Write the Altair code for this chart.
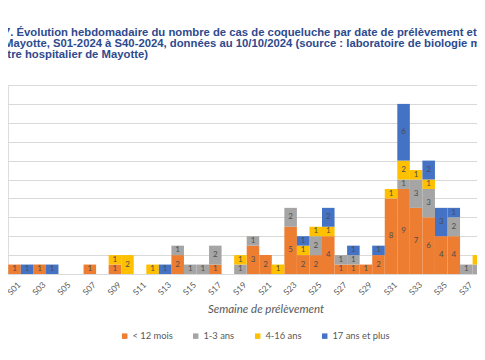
import altair as alt
import pandas as pd

# ---- data ----
weeks = list(range(1, 39))  # S01 .. S38 (visible part)
classes = ["< 12 mois", "1-3 ans", "4-16 ans", "17 ans et plus"]
colors = ["#ED7D31", "#A5A5A5", "#FFC000", "#4472C4"]

lt12 = [1,0,1,0,0,0,1,0,1,0,0,0,0,2,0,0,1,0,0,3,2,0,5,2,2,4,1,1,1,2,8,9,7,6,4,4,0,0]
a1_3 = [0,0,0,0,0,0,0,0,0,0,0,0,0,1,1,1,2,0,1,1,0,0,2,0,2,0,1,1,0,0,0,1,3,3,0,2,1,1]
a4_16 = [0,0,0,0,0,0,0,0,1,2,0,1,0,0,0,0,0,0,1,0,0,1,0,1,1,1,0,0,0,0,1,2,1,1,0,0,0,1]
a17p = [0,1,0,1,0,0,0,0,0,0,0,0,1,0,0,0,0,0,0,0,0,0,0,1,0,2,0,1,0,1,0,6,0,2,3,1,0,0]

title_lines = [
    "Figure 7. Évolution hebdomadaire du nombre de cas de coqueluche par date de prélèvement et par classe d'âge,",
    "à Mayotte, S01-2024 à S40-2024, données au 10/10/2024 (source : laboratoire de biologie médicale du",
    "centre hospitalier de Mayotte)",
]

series = [lt12, a1_3, a4_16, a17p]
rows = []
for ci, (cls, vals) in enumerate(zip(classes, series)):
    for w, v in zip(weeks, vals):
        if v > 0:
            rows.append({"week": w, "classe": cls, "n": v, "ord": ci})
df = pd.DataFrame(rows)

W, H = 469, 189
x_scale = alt.Scale(domain=[0.48, 0.48 + W / 12.55], nice=False, zero=False)
y_scale = alt.Scale(domain=[0, 20], nice=False)

base = alt.Chart(df).transform_stack(
    stack="n", groupby=["week"], sort=[alt.SortField("ord", order="ascending")], as_=["y0", "y1"]
).transform_calculate(
    xa="datum.week - 0.5", xb="datum.week + 0.5", ym="(datum.y0 + datum.y1) / 2"
)

x_axis = alt.Axis(
    values=list(range(1, 41, 2)),
    labelExpr="'S' + (datum.value < 10 ? '0' : '') + datum.value",
    labelAngle=315, labelAlign="right", labelBaseline="middle", labelPadding=9,
    labelOffset=4,
    labelFont="Lato", labelFontSize=8.5, labelColor="#595959",
    labelOverlap=False, labelFlush=False,
    ticks=False, domain=True, domainColor="#D9D9D9", grid=False,
    title="Semaine de prélèvement", titleFont="Lato", titleFontStyle="italic",
    titleFontWeight="normal", titleFontSize=11.5, titleColor="#595959",
    titleX=257.5, titleY=35, titleAlign="center", titleBaseline="middle",
)
y_axis = alt.Axis(values=list(range(0, 21, 2)), labels=False, ticks=False, domain=False,
                  grid=True, gridColor="#D9D9D9", gridWidth=1, title=None)

bars = base.mark_bar(clip=True, strokeWidth=0).encode(
    x=alt.X("xa:Q", scale=x_scale, axis=x_axis),
    x2="xb:Q",
    y=alt.Y("y0:Q", scale=y_scale, axis=y_axis),
    y2="y1:Q",
    color=alt.Color("classe:N", scale=alt.Scale(domain=classes, range=colors),
                    legend=alt.Legend(orient="none", legendX=112, legendY=246, direction="horizontal",
                                      title=None, symbolType="square", symbolSize=30,
                                      symbolStrokeWidth=0, labelFont="Lato", labelFontSize=9.4,
                                      labelColor="#595959", columnPadding=18, labelOffset=3,
                                      padding=0)),
    order=alt.Order("ord:Q"),
)

labels = base.mark_text(clip=True, font="Lato", fontSize=8, color="#4d4d4d", baseline="middle").encode(
    x=alt.X("week:Q", scale=x_scale, axis=x_axis),
    y=alt.Y("ym:Q", scale=y_scale, axis=y_axis),
    text=alt.Text("n:Q"),
)

title_x = [-41.7, -13.4, -20.1]
title_y = [-49, -38, -27]
title_layers = []
for line, tx, ty in zip(title_lines, title_x, title_y):
    title_layers.append(
        alt.Chart(alt.Data(values=[{}])).mark_text(
            align="left", baseline="alphabetic", font="Liberation Sans", fontWeight="bold",
            fontSize=11.3, color="#2E4A8E"
        ).encode(x=alt.value(tx), y=alt.value(ty), text=alt.value(line))
    )

chart = alt.layer(bars, labels, *title_layers).properties(
    width=W, height=H,
    autosize=alt.AutoSizeParams(type="none"),
    padding={"left": 0, "top": 77, "right": 0, "bottom": 78},
).configure_view(stroke=None).configure(background="white")

chart.save("out.html", embed_options={"renderer": "svg", "actions": False})
